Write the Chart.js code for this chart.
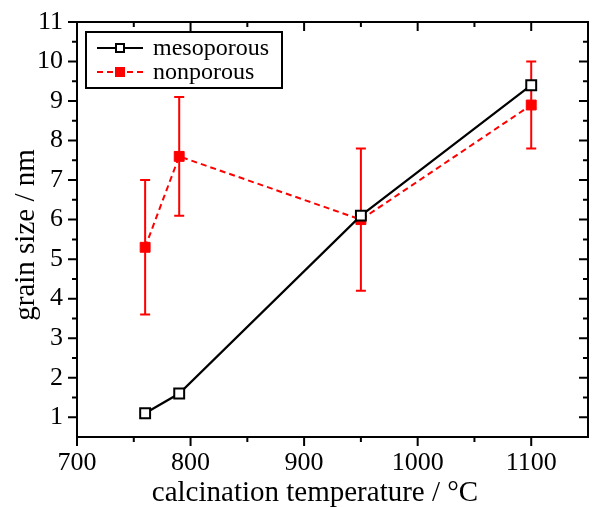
<!DOCTYPE html>
<html>
<head>
<meta charset="utf-8">
<script src="https://cdn.jsdelivr.net/npm/chart.js@4/dist/chart.umd.min.js"></script>
<style>
  html, body { margin: 0; padding: 0; background: #fff; }
  #grainChart { display: block; }
</style>
</head>
<body>
<canvas id="grainChart" width="593" height="507"></canvas>
<script>
// Data
const temps = [760, 790, 950, 1100];
const mesoporous = [1.1, 1.6, 6.1, 9.4];
const nonporous = [5.3, 7.6, 6.0, 8.9];
const nonporousLow = [3.6, 6.1, 4.2, 7.8];
const nonporousHigh = [7.0, 9.1, 7.8, 10.0];

const xTicks = [700, 800, 900, 1000, 1100];
const xMinor = [750, 850, 950, 1050];
const yTicks = [1, 2, 3, 4, 5, 6, 7, 8, 9, 10, 11];
const yMinor = [1.5, 2.5, 3.5, 4.5, 5.5, 6.5, 7.5, 8.5, 9.5, 10.5];

const xTitle = 'calcination temperature / °C';
const yTitle = 'grain size / nm';

const serif = '"Liberation Serif", "Times New Roman", serif';
Chart.defaults.font.family = serif;
Chart.defaults.color = '#000';

// Error bars for the nonporous series
const errorBars = {
    id: 'errorBars',
    beforeDatasetsDraw(chart) {
        const { ctx, scales: { x, y } } = chart;
        ctx.save();
        ctx.strokeStyle = '#ff0000';
        ctx.lineWidth = 2;
        temps.forEach((t, i) => {
            const px = x.getPixelForValue(t);
            const lo = y.getPixelForValue(nonporousLow[i]);
            const hi = y.getPixelForValue(nonporousHigh[i]);
            ctx.beginPath();
            ctx.moveTo(px, lo); ctx.lineTo(px, hi);
            ctx.moveTo(px - 5, lo); ctx.lineTo(px + 5, lo);
            ctx.moveTo(px - 5, hi); ctx.lineTo(px + 5, hi);
            ctx.stroke();
        });
        ctx.restore();
    }
};

// Frame with ticks on all four sides, axis titles and the legend
const frame = {
    id: 'frame',
    afterDraw(chart) {
        const { ctx, chartArea: a, scales: { x, y } } = chart;
        ctx.save();
        ctx.strokeStyle = '#000';
        ctx.lineWidth = 2;
        ctx.strokeRect(a.left, a.top, a.right - a.left, a.bottom - a.top);
        ctx.beginPath();
        const xt = (v, len) => {
            const px = x.getPixelForValue(v);
            ctx.moveTo(px, a.bottom); ctx.lineTo(px, a.bottom + len);
            ctx.moveTo(px, a.top); ctx.lineTo(px, a.top + len);
        };
        const yt = (v, len) => {
            const py = y.getPixelForValue(v);
            ctx.moveTo(a.left, py); ctx.lineTo(a.left - len, py);
            ctx.moveTo(a.right, py); ctx.lineTo(a.right - len, py);
        };
        xTicks.forEach(v => xt(v, 9));
        xMinor.forEach(v => xt(v, 5));
        yTicks.forEach(v => yt(v, 9));
        yMinor.forEach(v => yt(v, 5));
        ctx.stroke();

        // axis titles
        ctx.fillStyle = '#000';
        ctx.font = '29px ' + serif;
        ctx.textAlign = 'center';
        ctx.textBaseline = 'alphabetic';
        ctx.fillText(xTitle, 315, 501);
        ctx.save();
        ctx.translate(34, 235);
        ctx.rotate(-Math.PI / 2);
        ctx.fillText(yTitle, 0, 0);
        ctx.restore();

        // legend box
        const bx = 86, by = 32, bw = 196, bh = 56;
        ctx.fillStyle = '#fff';
        ctx.fillRect(bx, by, bw, bh);
        ctx.strokeRect(bx, by, bw, bh);
        const rows = [
            { label: 'mesoporous', color: '#000', dash: [], fill: '#fff' },
            { label: 'nonporous', color: '#ff0000', dash: [6, 4], fill: '#ff0000' }
        ];
        rows.forEach((r, i) => {
            const ly = 48 + i * 24;
            ctx.strokeStyle = r.color;
            ctx.setLineDash(r.dash);
            ctx.beginPath();
            ctx.moveTo(97, ly); ctx.lineTo(143, ly);
            ctx.stroke();
            ctx.setLineDash([]);
            ctx.fillStyle = r.fill;
            ctx.fillRect(116, ly - 4, 8, 8);
            ctx.strokeRect(116, ly - 4, 8, 8);
            ctx.fillStyle = '#000';
            ctx.font = '24px ' + serif;
            ctx.textAlign = 'left';
            ctx.textBaseline = 'middle';
            ctx.fillText(r.label, 153, ly + 1);
        });
        ctx.restore();
    }
};

const ctx = document.getElementById('grainChart').getContext('2d');

const grainChart = new Chart(ctx, {
    type: 'line',
    data: {
        datasets: [{
            label: 'mesoporous',
            data: temps.map((t, i) => ({ x: t, y: mesoporous[i] })),
            borderColor: '#000',
            borderWidth: 2.2,
            pointStyle: 'rect',
            pointRadius: 7,
            pointBorderWidth: 2,
            pointBackgroundColor: '#fff',
            pointBorderColor: '#000',
            fill: false,
        }, {
            label: 'nonporous',
            data: temps.map((t, i) => ({ x: t, y: nonporous[i] })),
            borderColor: '#ff0000',
            borderWidth: 2,
            borderDash: [6, 4],
            pointStyle: 'rect',
            pointRadius: 7,
            pointBorderWidth: 1,
            pointBackgroundColor: '#ff0000',
            pointBorderColor: '#ff0000',
            fill: false,
        }]
    },
    options: {
        responsive: false,
        animation: false,
        layout: { autoPadding: false, padding: { top: 22, right: 5, left: 0, bottom: 0 } },
        plugins: {
            legend: { display: false },
            tooltip: { enabled: false }
        },
        scales: {
            x: {
                type: 'linear',
                min: 700,
                max: 1150,
                afterBuildTicks: s => { s.ticks = xTicks.map(v => ({ value: v })); },
                afterFit: s => { s.height = 70; s.paddingLeft = 0; s.paddingRight = 0; },
                grid: { display: false, drawTicks: true, tickLength: 9 },
                border: { display: false },
                ticks: {
                    color: '#000',
                    padding: 2,
                    maxRotation: 0,
                    font: { family: serif, size: 26 },
                    callback: v => String(v)
                },
                title: { display: false }
            },
            y: {
                type: 'linear',
                min: 0.5,
                max: 11,
                afterBuildTicks: s => { s.ticks = yTicks.map(v => ({ value: v })); },
                afterFit: s => { s.width = 77; s.paddingTop = 0; s.paddingBottom = 0; },
                grid: { display: false, drawTicks: true, tickLength: 9 },
                border: { display: false },
                ticks: {
                    color: '#000',
                    padding: 5,
                    font: { family: serif, size: 26 },
                    callback: v => String(v)
                },
                title: { display: false }
            }
        }
    },
    plugins: [errorBars, frame]
});
</script>
</body>
</html>
